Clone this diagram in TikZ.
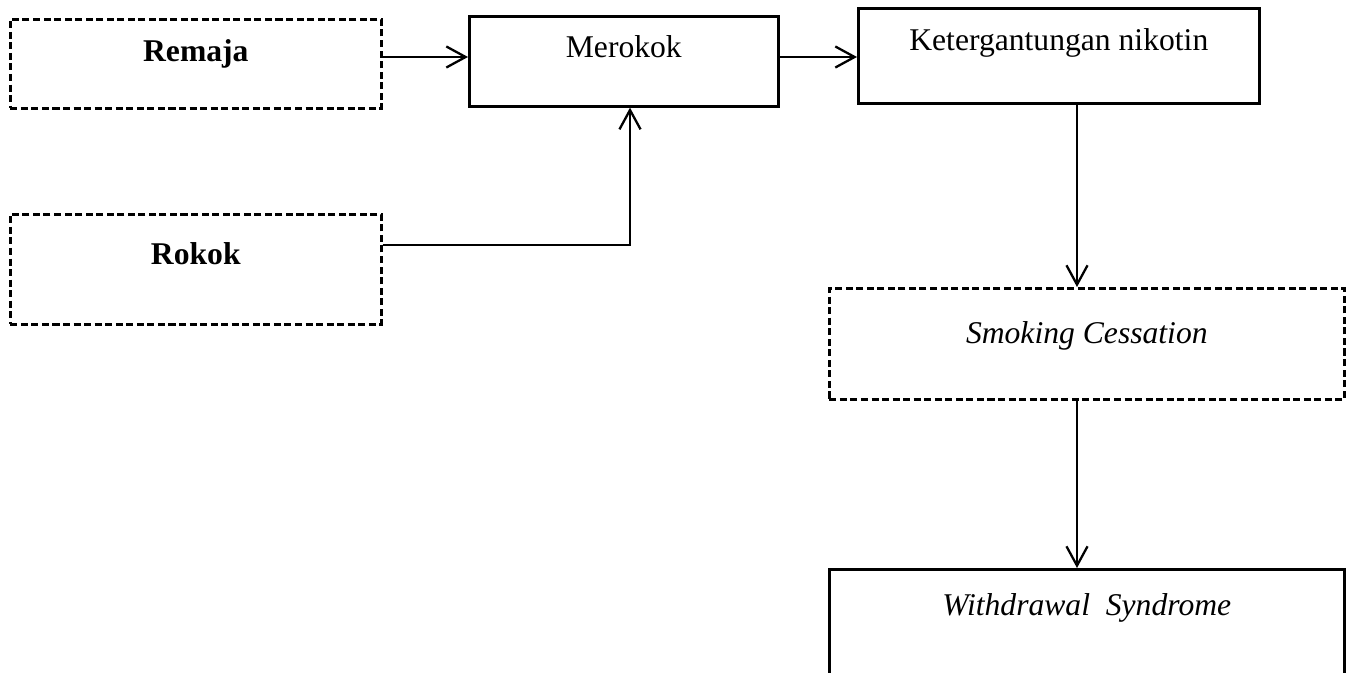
\documentclass[tikz,border=0pt]{standalone}
\usepackage{fontspec}
\setmainfont{Liberation Serif}
\usetikzlibrary{arrows.meta}
\tikzset{
  caja/.style={draw, line width=1.5pt, inner sep=0pt, anchor=north west},
  cajapunteada/.style={caja, dash pattern=on 4pt off 2pt},
  flecha/.style={line width=1.3pt, -{Straight Barb[length=11pt,width=12pt,line width=1.3pt]}}
}
\begin{document}
\begin{tikzpicture}[font=\fontsize{18}{22}\selectfont]
\useasboundingbox (0,0) rectangle (26.96,13.44);
\clip (0,0) rectangle (26.96,13.44);
% Kotak kiri
\node[cajapunteada, minimum width=7.42cm, text height=0.84cm, text depth=0.94cm] (remaja) at (0.18,13.08) {\textbf{Remaja}};
\node[cajapunteada, minimum width=7.42cm, text height=1.00cm, text depth=1.20cm] (rokok) at (0.18,9.18) {\textbf{Rokok}};
% Kotak tengah dan kanan
\node[caja, minimum width=6.18cm, text height=0.82cm, text depth=0.98cm] (merokok) at (9.36,13.14) {Merokok};
\node[caja, minimum width=8.02cm, text height=0.84cm, text depth=1.06cm] (nikotin) at (17.14,13.30) {Ketergantungan nikotin};
\node[cajapunteada, minimum width=10.30cm, text height=1.10cm, text depth=1.12cm] (cessation) at (16.56,7.70) {\textit{Smoking Cessation}};
\node[caja, minimum width=10.30cm, text height=0.92cm, text depth=2.08cm] (withdrawal) at (16.56,2.08) {\textit{Withdrawal\ \ Syndrome}};
% Titik bantu
\coordinate (fila) at (0,12.30);
\coordinate (codo) at (12.60,8.54);
\coordinate (eje) at (21.54,0);
% Panah
\draw[flecha] (remaja.east |- fila) -- (merokok.west |- fila);
\draw[flecha] (merokok.east |- fila) -- (nikotin.west |- fila);
\draw[flecha] (rokok.east |- codo) -- (codo) -- (merokok.south -| codo);
\draw[flecha] (nikotin.south -| eje) -- (cessation.north -| eje);
\draw[flecha] (cessation.south -| eje) -- (withdrawal.north -| eje);
\end{tikzpicture}
\end{document}
